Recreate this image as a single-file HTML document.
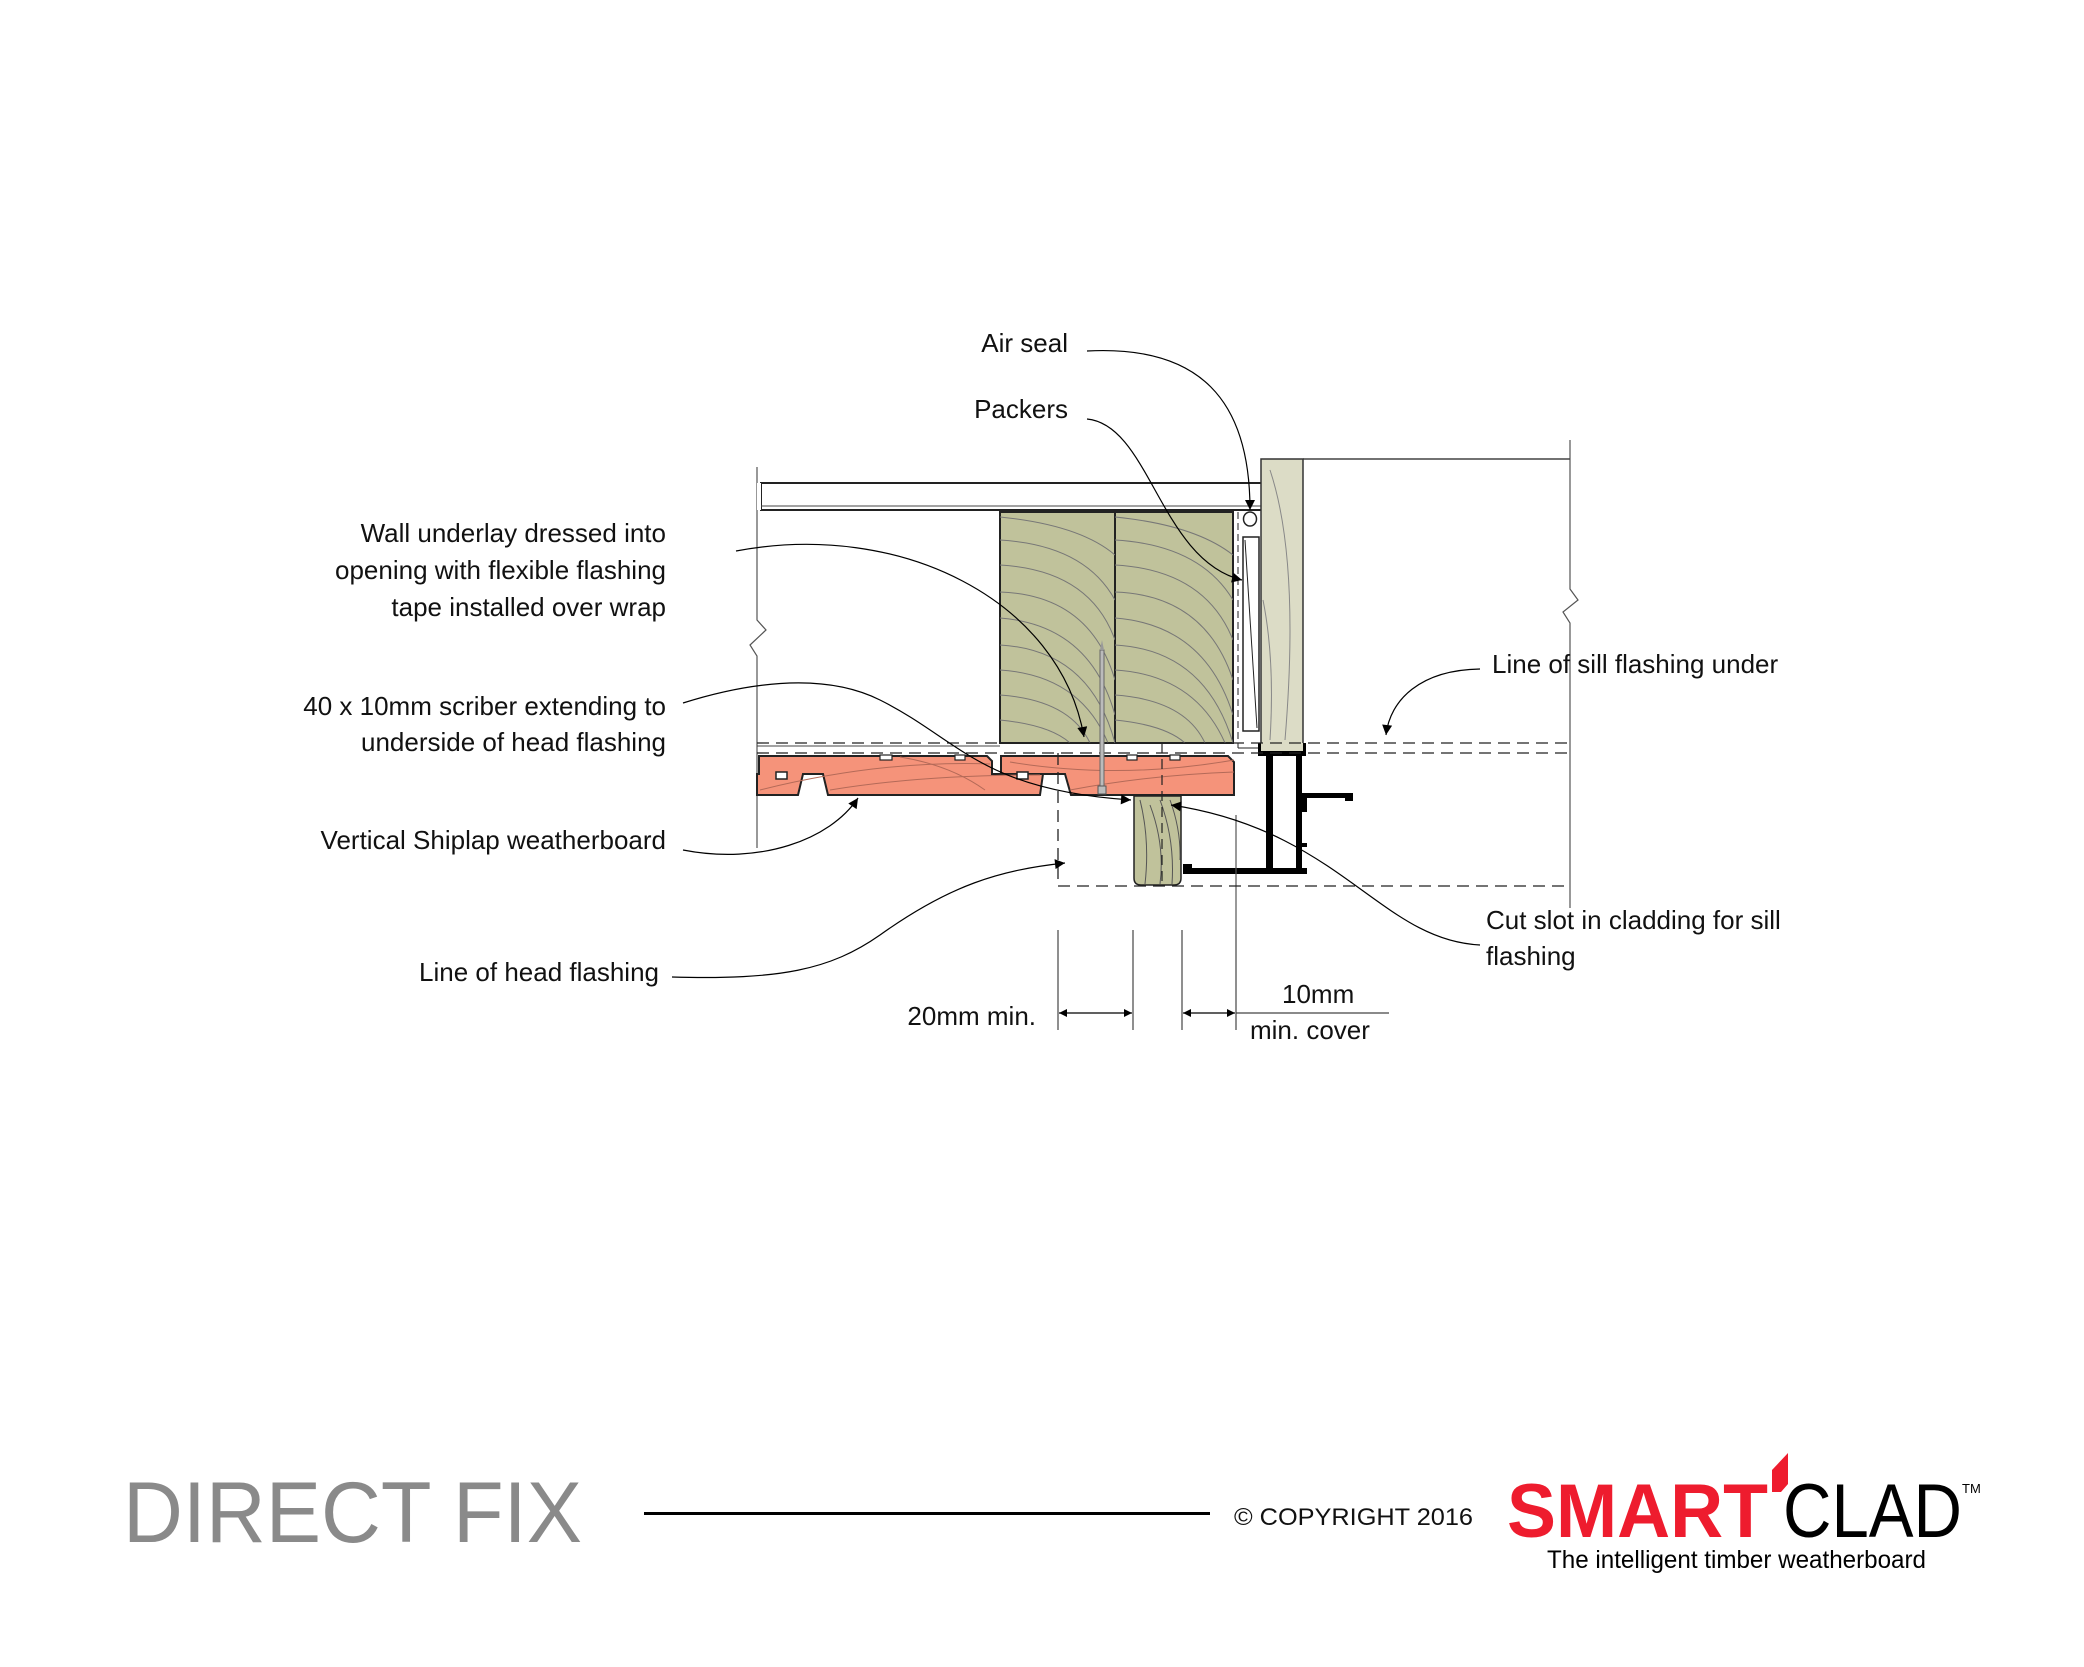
<!DOCTYPE html>
<html><head><meta charset="utf-8"><style>
html,body{margin:0;padding:0;background:#fff;}
svg{display:block;}
text{font-family:"Liberation Sans",sans-serif;}
</style></head><body>
<svg width="2084" height="1667" viewBox="0 0 2084 1667" xmlns="http://www.w3.org/2000/svg">
<defs>
<marker id="ar" viewBox="0 0 10 10" refX="10" refY="5" markerWidth="14" markerHeight="10" markerUnits="userSpaceOnUse" orient="auto"><path d="M0,0 L10,5 L0,10 z" fill="#000"/></marker>
<marker id="ad" viewBox="0 0 10 10" refX="10" refY="5" markerWidth="14" markerHeight="8" markerUnits="userSpaceOnUse" orient="auto-start-reverse"><path d="M0,0 L10,5 L0,10 z" fill="#000"/></marker>
<clipPath id="s1"><rect x="1000" y="512" width="115" height="231"/></clipPath>
<clipPath id="s2"><rect x="1115" y="512" width="118" height="231"/></clipPath>
<clipPath id="b1"><rect x="757" y="756" width="480" height="40"/></clipPath>
</defs>

<path d="M757,467 L757,620 L766,630 L750,645 L757,656 L757,848" fill="none" stroke="#555" stroke-width="1.2"/>
<path d="M1570,440 L1570,589 L1578,600 L1563,612 L1570,623 L1570,908" fill="none" stroke="#555" stroke-width="1.2"/>
<line x1="1303" y1="459" x2="1570" y2="459" stroke="#444" stroke-width="1.5"/>

<rect x="761" y="483" width="520" height="27" fill="#fff" stroke="#222" stroke-width="2"/>
<line x1="761" y1="506" x2="1281" y2="506" stroke="#444" stroke-width="1"/>
<rect x="757" y="483" width="4" height="27" fill="#fff"/>

<rect x="1000" y="512" width="115" height="231" fill="#c0c29b" stroke="#222" stroke-width="2"/>
<rect x="1115" y="512" width="118" height="231" fill="#c0c29b" stroke="#222" stroke-width="2"/>
<g clip-path="url(#s1)" fill="none" stroke="#777" stroke-width="1">
<path d="M1000,517 Q1080,525 1115,555"/><path d="M1000,540 Q1085,545 1115,600"/><path d="M1000,565 Q1090,570 1115,640"/>
<path d="M1000,592 Q1090,595 1115,680"/><path d="M1000,618 Q1090,625 1115,715"/><path d="M1000,645 Q1090,650 1115,743"/>
<path d="M1000,670 Q1080,675 1108,743"/><path d="M1000,695 Q1070,700 1090,743"/><path d="M1000,720 Q1050,725 1070,743"/>
</g>
<g clip-path="url(#s2)" fill="none" stroke="#777" stroke-width="1">
<path d="M1115,517 Q1195,525 1233,555"/><path d="M1115,540 Q1200,545 1233,600"/><path d="M1115,565 Q1205,570 1233,640"/>
<path d="M1115,592 Q1205,595 1233,680"/><path d="M1115,618 Q1205,625 1233,715"/><path d="M1115,645 Q1205,650 1233,743"/>
<path d="M1115,670 Q1195,675 1225,743"/><path d="M1115,695 Q1185,700 1205,743"/><path d="M1115,720 Q1165,725 1185,743"/>
</g>

<rect x="1261" y="459" width="42" height="287" fill="#dcdcc6" stroke="#333" stroke-width="1.5"/>
<path d="M1270,470 Q1300,560 1285,740" fill="none" stroke="#888" stroke-width="1"/>
<path d="M1263,600 Q1275,660 1270,740" fill="none" stroke="#888" stroke-width="1"/>
<rect x="1258" y="743" width="48" height="13" fill="#000"/>
<rect x="1261" y="743" width="42" height="8" fill="#dcdcc6"/>
<ellipse cx="1250" cy="519" rx="6.5" ry="7" fill="#fff" stroke="#222" stroke-width="1.5"/>
<rect x="1243" y="537" width="16" height="194" fill="#fff" stroke="#222" stroke-width="1.5"/>
<line x1="1245" y1="540" x2="1257" y2="728" stroke="#222" stroke-width="1"/>
<line x1="1238" y1="512" x2="1238" y2="748" stroke="#222" stroke-width="1" stroke-dasharray="7,4"/>
<line x1="1238" y1="748" x2="1258" y2="748" stroke="#222" stroke-width="1"/>

<line x1="757" y1="743" x2="1570" y2="743" stroke="#222" stroke-width="1.3" stroke-dasharray="12,7"/>
<line x1="757" y1="753" x2="1570" y2="753" stroke="#222" stroke-width="1.3" stroke-dasharray="12,7"/>
<line x1="757" y1="746" x2="1000" y2="746" stroke="#444" stroke-width="1"/>

<path d="M759,756 L987,756 L992,761 L992,774 L1043,774 L1040,795 L828,795 L823,774 L803,774 L798,795 L757,795 L757,774 L759,774 Z" fill="#f5937a" stroke="#222" stroke-width="2"/>
<path d="M1001,756 L1228,756 L1234,762 L1234,795 L1071,795 L1065,774 L1001,774 Z" fill="#f5937a" stroke="#222" stroke-width="2"/>
<g clip-path="url(#b1)" fill="none" stroke="#b46a58" stroke-width="1">
<path d="M760,790 Q880,760 990,764"/><path d="M830,790 Q920,775 1040,775"/><path d="M1070,790 Q1150,775 1234,772"/><path d="M1010,762 Q1120,780 1234,760"/>
<path d="M900,757 Q950,765 985,790"/>
</g>
<rect x="776" y="772" width="11" height="7" fill="#fff" stroke="#222" stroke-width="1.5"/>
<rect x="1017" y="772" width="11" height="7" fill="#fff" stroke="#222" stroke-width="1.5"/>
<g fill="#fff" stroke="#222" stroke-width="1.2">
<rect x="880" y="755" width="12" height="5"/><rect x="955" y="755" width="10" height="5"/>
<rect x="1127" y="755" width="10" height="5"/><rect x="1170" y="755" width="10" height="5"/>
</g>

<rect x="1100" y="650" width="4" height="138" fill="#bbb" stroke="#666" stroke-width="1"/>
<path d="M1100,650 L1102,640 L1104,650 Z" fill="#999"/>
<rect x="1098" y="786" width="8" height="8" fill="#bbb" stroke="#555" stroke-width="1"/>

<path d="M1134,796 L1181,796 L1181,878 Q1181,885 1174,885 L1141,885 Q1134,885 1134,878 Z" fill="#c0c29b" stroke="#222" stroke-width="1.5"/>
<path d="M1140,800 Q1150,840 1145,884 M1150,805 Q1165,845 1160,884 M1160,800 Q1175,840 1172,884 M1170,800 Q1181,830 1180,860" fill="none" stroke="#555" stroke-width="1"/>
<line x1="1162" y1="743" x2="1162" y2="886" stroke="#222" stroke-width="1.2" stroke-dasharray="10,6"/>

<g fill="#000">
<rect x="1266" y="756" width="7" height="117"/>
<rect x="1296" y="756" width="6" height="117"/>
<rect x="1183" y="868" width="124" height="6"/>
<rect x="1183" y="864" width="9" height="10"/>
<rect x="1300" y="793" width="53" height="5"/>
<rect x="1345" y="793" width="8" height="8"/>
<rect x="1300" y="797" width="7" height="15"/>
<rect x="1300" y="843" width="7" height="4"/>
</g>
<line x1="1236" y1="815" x2="1236" y2="930" stroke="#555" stroke-width="1.2"/>

<path d="M1058,753 L1058,886 L1570,886" fill="none" stroke="#222" stroke-width="1.3" stroke-dasharray="12,7"/>

<g transform="translate(-7,0)">
<g stroke="#444" stroke-width="1.2">
<line x1="1065" y1="930" x2="1065" y2="1030"/>
<line x1="1140" y1="930" x2="1140" y2="1030"/>
<line x1="1189" y1="930" x2="1189" y2="1030"/>
<line x1="1243" y1="930" x2="1243" y2="1030"/>
<line x1="1243" y1="1013" x2="1396" y2="1013"/>
</g>
<line x1="1066" y1="1013" x2="1139" y2="1013" stroke="#000" stroke-width="1.3" marker-start="url(#ad)" marker-end="url(#ad)"/>
<line x1="1190" y1="1013" x2="1242" y2="1013" stroke="#000" stroke-width="1.3" marker-start="url(#ad)" marker-end="url(#ad)"/>
</g>

<g fill="none" stroke="#000" stroke-width="1.2" marker-end="url(#ar)">
<path d="M1087,351 C1200,345 1250,400 1250,510"/>
<path d="M1087,419 C1150,425 1160,560 1242,580"/>
<path d="M736,551 C900,520 1060,600 1084,737"/>
<path d="M683,703 C740,685 820,670 880,700 C960,740 980,790 1131,800"/>
<path d="M683,850 C760,865 830,840 858,798"/>
<path d="M672,977 C780,980 830,970 880,935 C950,885 1000,870 1065,863"/>
<path d="M1480,945 C1380,940 1340,830 1171,805"/>
<path d="M1480,669 C1420,670 1390,700 1386,735"/>
</g>

<g font-size="26" fill="#111">
<text x="1068" y="352" text-anchor="end">Air seal</text>
<text x="1068" y="418" text-anchor="end">Packers</text>
<text x="666" y="542" text-anchor="end">Wall underlay dressed into</text>
<text x="666" y="579" text-anchor="end">opening with flexible flashing</text>
<text x="666" y="616" text-anchor="end">tape installed over wrap</text>
<text x="666" y="715" text-anchor="end">40 x 10mm scriber extending to</text>
<text x="666" y="751" text-anchor="end">underside of head flashing</text>
<text x="666" y="849" text-anchor="end">Vertical Shiplap weatherboard</text>
<text x="659" y="981" text-anchor="end">Line of head flashing</text>
<text x="1036" y="1025" text-anchor="end">20mm min.</text>
<text x="1282" y="1003">10mm</text>
<text x="1250" y="1039">min. cover</text>
<text x="1492" y="673">Line of sill flashing under</text>
<text x="1486" y="929">Cut slot in cladding for sill</text>
<text x="1486" y="965">flashing</text>
</g>

<text x="123" y="1542" font-size="86" fill="#8a8a8a" textLength="459" lengthAdjust="spacingAndGlyphs">DIRECT FIX</text>
<rect x="644" y="1512" width="566" height="3" fill="#000"/>
<text x="1234" y="1525" font-size="24" fill="#111" textLength="239" lengthAdjust="spacingAndGlyphs">© COPYRIGHT 2016</text>
<text x="1507" y="1537" font-size="76" font-weight="bold" fill="#ee1c2e" textLength="261" lengthAdjust="spacingAndGlyphs">SMART</text>
<path d="M1772,1470 L1788,1453 L1788,1484 L1781,1492 L1772,1492 Z" fill="#ee1c2e"/>
<text x="1783" y="1537" font-size="76" fill="#000" textLength="179" lengthAdjust="spacingAndGlyphs">CLAD</text>
<text x="1962" y="1493" font-size="13" fill="#000">TM</text>
<text x="1547" y="1568" font-size="25" fill="#000" textLength="379" lengthAdjust="spacingAndGlyphs">The intelligent timber weatherboard</text>
</svg>
</body></html>
